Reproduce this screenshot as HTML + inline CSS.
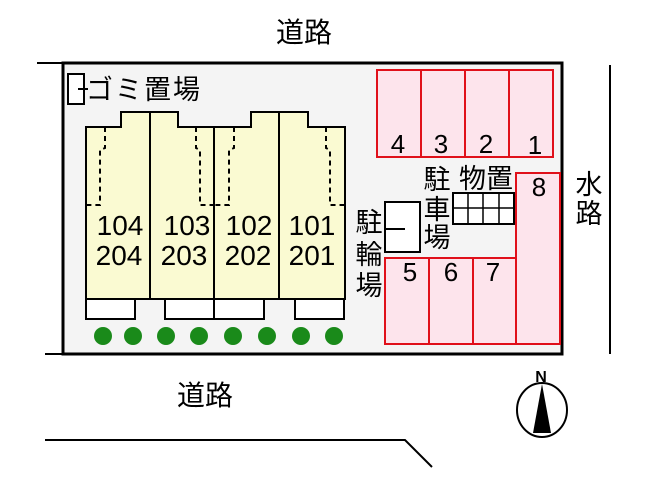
<!DOCTYPE html>
<html><head><meta charset="utf-8"><style>
body{margin:0;background:#fff;}
svg text{font-family:"Liberation Sans","Noto Sans CJK JP",sans-serif;fill:#000;}
</style></head><body>
<svg width="653" height="488" viewBox="0 0 653 488" xmlns="http://www.w3.org/2000/svg">
<rect x="63" y="63" width="499" height="291" fill="#f4f4f4" stroke="#000" stroke-width="3"/>
<line x1="37" y1="63" x2="63" y2="63" stroke="#000" stroke-width="2"/>
<line x1="45" y1="354" x2="63" y2="354" stroke="#000" stroke-width="2"/>
<line x1="610" y1="65" x2="610" y2="354" stroke="#000" stroke-width="2"/>
<polyline points="45,440 405,440 432,467" fill="none" stroke="#000" stroke-width="2"/>
<text x="304" y="42" font-size="28" text-anchor="middle">道路</text>
<text x="205" y="405" font-size="28" text-anchor="middle">道路</text>
<text x="589" y="194" font-size="27" text-anchor="middle">水</text>
<text x="589" y="223" font-size="27" text-anchor="middle">路</text>
<!-- garbage -->
<rect x="68" y="74" width="16" height="30" fill="#fff" stroke="#000" stroke-width="2"/>
<line x1="78" y1="89" x2="88" y2="89" stroke="#000" stroke-width="2"/>
<text x="86" y="99" font-size="27" letter-spacing="2">ゴミ置場</text>
<!-- buildings -->
<path d="M86,127 H121 V112 H178 V127 H251 V112 H308 V127 H345 V299 H86 Z" fill="#fafad2" stroke="#000" stroke-width="2"/>
<g stroke="#000" stroke-width="2">
<line x1="150" y1="112" x2="150" y2="299"/><line x1="214" y1="127" x2="214" y2="299"/><line x1="279" y1="112" x2="279" y2="299"/>
</g>
<g fill="none" stroke="#000" stroke-width="2" stroke-dasharray="5,4">
<polyline points="105,127 105,148 100,150 100,205 86,205"/>
<polyline points="196,127 196,148 200,150 200,205 214,205"/>
<polyline points="234,127 234,148 229,150 229,205 214,205"/>
<polyline points="326,127 326,148 330,150 330,205 344,205"/>
</g>
<g fill="#fff" stroke="#000" stroke-width="2">
<rect x="86" y="299" width="49" height="20"/><rect x="165" y="299" width="49" height="20"/>
<rect x="214" y="299" width="50" height="20"/><rect x="295" y="299" width="49" height="20"/>
</g>
<g font-size="28" text-anchor="middle">
<text x="120" y="235">104</text><text x="119" y="265">204</text>
<text x="187" y="235">103</text><text x="184" y="265">203</text>
<text x="249" y="235">102</text><text x="248" y="265">202</text>
<text x="312" y="235">101</text><text x="312" y="265">201</text>
</g>
<g fill="#1a8a1a">
<circle cx="103" cy="336" r="9"/><circle cx="133" cy="336" r="9"/><circle cx="166" cy="336" r="9"/><circle cx="199" cy="336" r="9"/>
<circle cx="233" cy="336" r="9"/><circle cx="267" cy="336" r="9"/><circle cx="301" cy="336" r="9"/><circle cx="334" cy="336" r="9"/>
</g>
<!-- parking -->
<g fill="#fde4ec" stroke="#e0101a" stroke-width="2">
<rect x="377" y="70" width="44" height="87"/><rect x="421" y="70" width="44" height="87"/>
<rect x="465" y="70" width="44" height="87"/><rect x="509" y="70" width="44" height="87"/>
<rect x="516" y="173" width="44" height="171"/>
<rect x="385" y="258" width="44" height="86"/><rect x="429" y="258" width="44" height="86"/><rect x="473" y="258" width="43" height="86"/>
</g>
<g font-size="26" text-anchor="middle">
<text x="398" y="153">4</text><text x="441" y="153">3</text><text x="486" y="153">2</text><text x="535" y="154">1</text>
<text x="539" y="196">8</text>
<text x="410" y="281">5</text><text x="451" y="281">6</text><text x="493" y="281">7</text>
</g>
<rect x="385" y="202" width="35" height="50" fill="#fff" stroke="#000" stroke-width="2"/>
<line x1="385" y1="229" x2="405" y2="229" stroke="#000" stroke-width="2"/>
<g fill="#fff" stroke="#000" stroke-width="2">
<rect x="453" y="193" width="61" height="31"/>
</g>
<g stroke="#000" stroke-width="1.5">
<line x1="468" y1="193" x2="468" y2="224"/><line x1="483" y1="193" x2="483" y2="224"/><line x1="499" y1="193" x2="499" y2="224"/>
<line x1="453" y1="208" x2="514" y2="208"/>
</g>
<g font-size="27" text-anchor="middle">
<text x="437" y="189">駐</text><text x="437" y="219">車</text><text x="437" y="247">場</text>
<text x="486" y="188">物置</text>
<text x="369" y="232">駐</text><text x="369" y="264">輪</text><text x="369" y="295">場</text>
</g>
<!-- compass -->
<text x="541" y="382" font-size="16" font-weight="bold" text-anchor="middle">N</text>
<ellipse cx="542" cy="410" rx="25" ry="27" fill="#fff" stroke="#000" stroke-width="2"/>
<polygon points="542,384 533,433 551,433" fill="#000"/>
</svg>
</body></html>
